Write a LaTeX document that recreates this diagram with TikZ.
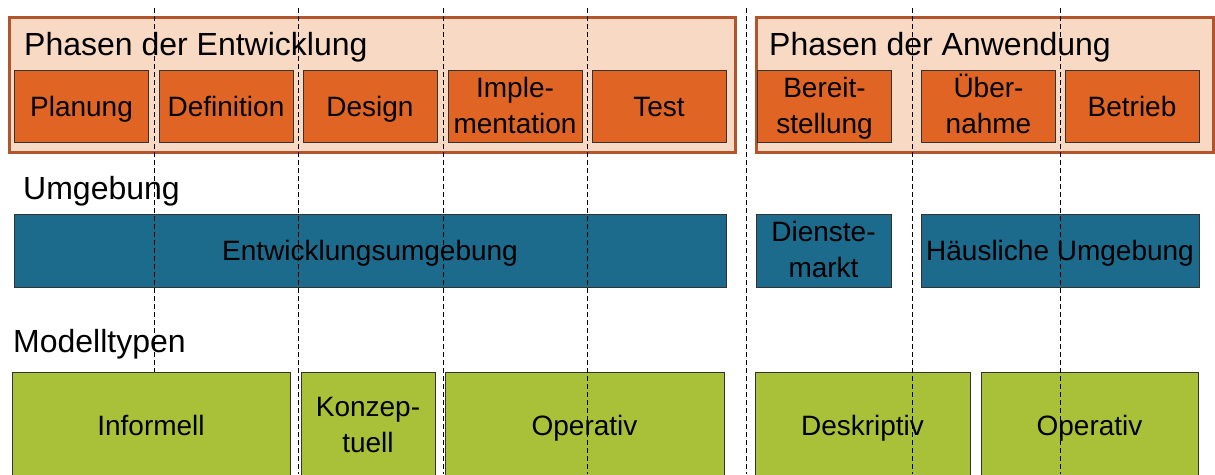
\documentclass[tikz,border=0pt]{standalone}
\usepackage{fontspec}
\setmainfont{Liberation Sans}
\definecolor{peach}{RGB}{248,217,196}
\definecolor{rim}{RGB}{178,84,44}
\definecolor{phaseor}{RGB}{224,101,37}
\definecolor{envblue}{RGB}{28,106,140}
\definecolor{modgreen}{RGB}{169,193,57}
\begin{document}
\begin{tikzpicture}[x=1pt,y=-1pt,
  frame/.style={draw=rim,fill=peach,line width=3pt},
  box/.style={draw=black!80,line width=1pt,inner sep=0pt,align=center,text height=20pt,text depth=0pt,font=\fontsize{28}{36}\selectfont},
  twolines/.style={text height=54pt},
  phase/.style={box,fill=phaseor,minimum width=134pt,minimum height=72pt},
  env/.style={box,fill=envblue,minimum height=73pt},
  model/.style={box,fill=modgreen,minimum height=106pt},
  head/.style={anchor=base west,inner sep=0pt,font=\fontsize{32}{38}\selectfont},
  sep/.style={dash pattern=on 5pt off 3pt,line width=1pt}]
\useasboundingbox (0,0) rectangle (1215,474);
\draw[frame](9,17) rectangle (735,152);
\draw[frame](756,17) rectangle (1213,152);
\node[head] (entw) at (24,55) {Phasen der Entwicklung};
\node[head] (anw) at (769,55) {Phasen der Anwendung};
\node[phase] (planung) at (81.5,106) {Planung};
\node[phase] (definition) at (226,106) {Definition};
\node[phase] (design) at (370,106) {Design};
\node[phase,twolines] (impl) at (515,106) {Imple-\\mentation};
\node[phase] (test) at (659,106) {Test};
\node[phase,twolines] (bereit) at (824.5,106) {Bereit-\\stellung};
\node[phase,twolines] (uebern) at (988.5,106) {Über-\\nahme};
\node[phase] (betrieb) at (1132,106) {Betrieb};
\node[head] (umg) at (23,199) {Umgebung};
\node[env,minimum width=712pt] (entwumg) at (370,250.5) {Entwicklungsumgebung};
\node[env,minimum width=135pt,twolines] (markt) at (823.5,250.5) {Dienste-\\markt};
\node[env,minimum width=278pt] (haus) at (1060,250.5) {Häusliche Umgebung};
\node[head] (typen) at (13,352) {Modelltypen};
\node[model,minimum width=278pt] (informell) at (151,425) {Informell};
\node[model,minimum width=134pt,twolines] (konzept) at (368,425) {Konzep-\\tuell};
\node[model,minimum width=279pt] (operativ) at (584.5,425) {Operativ};
\node[model,minimum width=215pt] (deskriptiv) at (862.5,425) {Deskriptiv};
\node[model,minimum width=217pt] (operativb) at (1089.5,425) {Operativ};
\draw[sep](154,8)--(154,372);
\foreach \x in {298,443,587,746,912,1060}
  \draw[sep](\x,8)--(\x,474);
\end{tikzpicture}
\end{document}
